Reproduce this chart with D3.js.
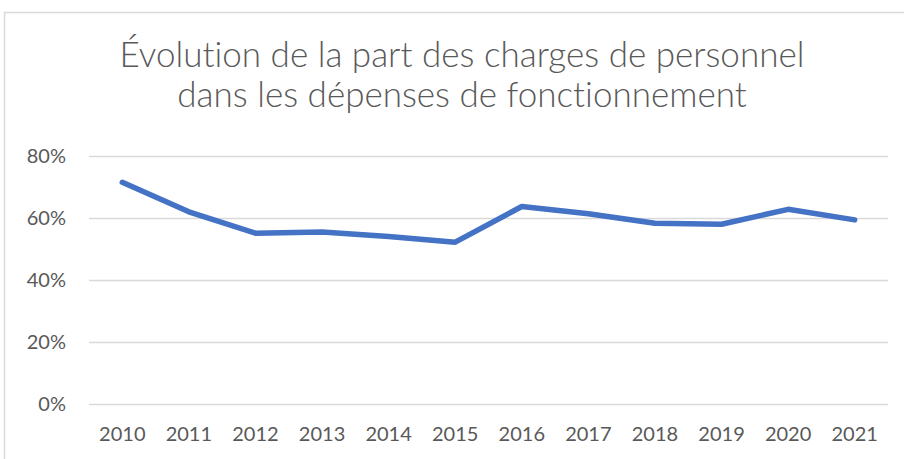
<!DOCTYPE html>
<html>
<head>
<meta charset="utf-8">
<script src="https://d3js.org/d3.v7.min.js"></script>
<style>
  body { margin: 0; background: #fff; }
  text { font-family: Lato, "Open Sans", sans-serif; fill: #595959; font-variant-ligatures: none; }
</style>
</head>
<body>
<script>
// data
var years = ["2010", "2011", "2012", "2013", "2014", "2015", "2016", "2017", "2018", "2019", "2020", "2021"];
var share = [0.715, 0.620, 0.551, 0.555, 0.540, 0.522, 0.637, 0.614, 0.583, 0.580, 0.628, 0.594];
var yTicks = [0, 0.2, 0.4, 0.6, 0.8];
var titleLines = ["Évolution de la part des charges de personnel", "dans les dépenses de fonctionnement"];

var W = 904, H = 459;
var margin = { top: 156, right: 16, bottom: 55, left: 89 };
var width = W - margin.left - margin.right,
    height = H - margin.top - margin.bottom;

var svg = d3.select("body").append("svg")
    .attr("width", W)
    .attr("height", H);

// chart frame (cut at right and bottom like the screenshot)
svg.append("path")
    .attr("d", "M4.5," + H + "V12.5H" + W)
    .attr("fill", "none")
    .attr("stroke", "#d9d9d9")
    .attr("stroke-width", 1.5);

var title = svg.append("text")
    .attr("text-anchor", "middle")
    .attr("x", 462)
    .attr("y", 67)
    .style("font-weight", 300);
title.selectAll("tspan")
    .data(titleLines)
    .enter().append("tspan")
    .attr("x", 462)
    .attr("dy", (d, i) => i ? 40 : 0)
    .text(d => d);
// fit the first line to the width seen in the reference
title.style("font-size", "31px");
var w0 = title.select("tspan").node().getComputedTextLength();
title.style("font-size", (31 * 685 / w0).toFixed(2) + "px");

var g = svg.append("g")
    .attr("transform", "translate(" + margin.left + "," + margin.top + ")");

var x = d3.scaleBand()
    .domain(years)
    .range([0, width]);

var y = d3.scaleLinear()
    .domain([0, 0.8])
    .range([height, 0]);

g.append("g")
    .selectAll("line")
    .data(yTicks)
    .enter().append("line")
    .attr("x1", 0)
    .attr("x2", width)
    .attr("y1", d => Math.round(y(d)) + 0.5)
    .attr("y2", d => Math.round(y(d)) + 0.5)
    .attr("stroke", "#d9d9d9")
    .attr("stroke-width", 1.5);

var yAxis = d3.axisLeft(y)
    .tickValues(yTicks)
    .tickFormat(d3.format(".0%"))
    .tickSize(0)
    .tickPadding(23);

g.append("g")
    .call(yAxis)
    .call(s => s.select(".domain").remove())
    .selectAll("text")
    .style("font-size", "20px")
    .attr("fill", "#595959");

var xAxis = d3.axisBottom(x)
    .tickSize(0)
    .tickPadding(23);

g.append("g")
    .attr("transform", "translate(0," + height + ")")
    .call(xAxis)
    .call(s => s.select(".domain").remove())
    .selectAll("text")
    .style("font-size", "20px")
    .attr("fill", "#595959");

var line = d3.line()
    .x((d, i) => x(years[i]) + x.bandwidth() / 2)
    .y(d => y(d));

g.append("path")
    .datum(share)
    .attr("d", line)
    .attr("fill", "none")
    .attr("stroke", "#4472c4")
    .attr("stroke-width", 5.5)
    .attr("stroke-linecap", "round")
    .attr("stroke-linejoin", "round");
</script>
</body>
</html>
